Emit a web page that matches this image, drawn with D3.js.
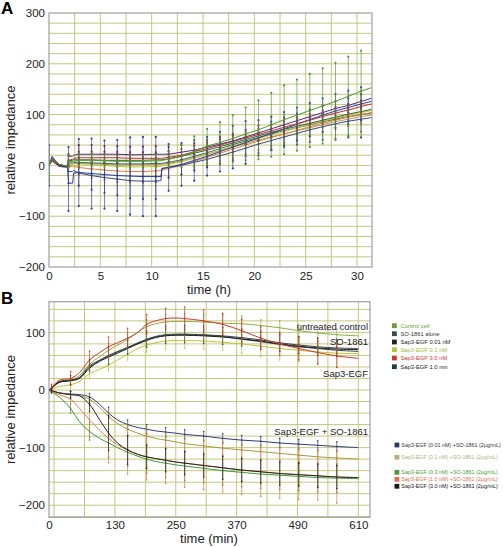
<!DOCTYPE html>
<html><head><meta charset="utf-8">
<script src="https://cdn.jsdelivr.net/npm/d3@7"></script>
<style>body{margin:0;background:#fff;} svg{display:block;font-family:"Liberation Sans",Arial,sans-serif;}</style>
</head><body><svg id="c" width="503" height="547"></svg>
<script>
// ---------- Panel A data (time in h) ----------
const timeA = [0,0.3,1.0,1.8,1.9,2.3,2.4,2.9,4.15,5.4,6.65,7.9,9.15,10.4,10.9,11.0,11.65,12.9,14.15,15.4,16.65,17.9,19.15,20.4,21.65,22.9,24.15,25.4,26.65,27.9,29.15,30.4,31.4];
const aGreen   = [0,12,2,-2,8, 8,8,10,10,9, 8,8,8,9,9, 10,12,18,27,38, 45,53,62,70,80, 90,99,108,117,126, 136,146,153];
const aPurple  = [0,10,0,-2,18, 18,20,22,22,22, 22,21,21,22,22, 22,22,26,30,36, 42,48,56,64,72, 80,88,96,104,112, 118,126,132];
const aRed     = [0,14,2,-2,10, 12,14,15,15,15, 15,14,14,14,14, 14,16,20,27,33, 40,47,54,61,68, 75,82,89,96,103, 109,116,121];
const aBlue    = [0,18,-2,-3,-35, -35,-15,-14,-16,-18, -20,-21,-22,-22,-22, -6,-4,2,10,18, 27,36,45,54,63, 72,81,90,99,107, 114,121,126];
const aNavy    = [0,10,-2,-3,-12, -12,-10,-15,-20,-24, -27,-30,-31,-31,-30, -6,-4,0,6,12, 19,26,34,42,49, 56,63,70,76,82, 87,91,94];
const aOrange  = [0,8,-2,-4,-2, -2,-2,-4,-7,-9, -11,-12,-12,-11,-10, -9,-6,0,8,16, 24,32,40,48,55, 62,69,76,83,89, 95,100,104];
const aYellow  = [0,9,0,-3,2, 2,3,3,2,0, -2,-3,-3,-2,-2, -1,2,7,14,22, 30,38,46,53,60, 67,74,81,87,93, 99,104,108];
const aTeal    = [0,12,1,-3,5, 5,6,6,5,4, 3,3,3,4,4, 4,6,11,18,25, 33,41,48,55,62, 68,74,80,86,91, 96,100,103];
const aDkGreen = [0,15,2,-2,9, 10,11,11,11,10, 10,10,10,11,11, 11,13,18,24,30, 37,44,51,58,65, 71,77,83,89,95, 101,106,110];
const aTan     = [0,10,0,-3,3, 3,4,4,3,2, 1,1,1,2,2, 2,4,9,15,22, 29,36,43,50,56, 62,68,74,80,86, 91,96,99];
// error (± half-length), 0 = no bar
const eAGreen  = [30,0,0,0,12, 0,0,12,12,12, 12,12,12,12,0, 0,15,22,30,34, 40,46,52,58,63, 68,70,72,74,76, 78,80,0];
const eABlue   = [40,0,0,0,55, 0,0,66,69,67, 70,76,78,78,0, 0,46,42,40,38, 39,42,42,35,33, 33,33,33,33,33, 33,33,0];
const eANavy   = [0,0,0,0,0, 0,0,25,28,30, 32,35,35,35,0, 0,20,18,16,16, 16,16,16,18,18, 20,22,24,26,30, 32,36,0];
const eAPurple = [0,0,0,0,18, 0,0,18,18,16, 16,16,16,16,0, 0,14,14,14,14, 14,14,14,14,14, 14,14,14,14,14, 14,14,0];
const eAOrange = [0,0,0,0,0, 0,0,15,18,20, 22,22,22,22,0, 0,18,18,18,18, 18,18,18,18,18, 18,18,18,18,18, 18,18,0];
const eARed    = [0,0,0,0,12, 0,0,12,12,12, 12,12,12,12,0, 0,12,12,12,12, 12,12,12,12,12, 12,12,12,12,12, 12,12,0];
const ticksAx = [0,5,10,15,20,25,30];
const ticksAy = [-200,-100,0,100,200,300];

// ---------- Panel B data (time in min) ----------
const timeB = [0,5,20,42.5,60,80,100,117.5,135,155,175,192.5,210,230,250,267.5,305,342.5,380,417.5,455,492.5,530,567.5,610];
const bControl = [0,3,15,18,25, 45,58,69,78,88, 100,110,115,118,119, 119,118,116,115,112, 108,103,99,96,94];
const bSO      = [0,3,14,17,22, 42,52,60,67,74, 82,88,93,96,97, 97,96,94,91,87, 82,78,75,73,72];
const b001     = [0,3,13,16,20, 38,50,57,64,72, 80,86,91,94,95, 95,94,92,89,85, 80,76,73,71,70];
const b01      = [0,2,6,9,15, 28,36,43,52,62, 72,78,82,85,86, 86,85,83,80,76, 72,69,66,64,63];
const b30      = [0,4,17,20,30, 52,65,75,82,90, 100,114,120,124,125, 124,120,114,103,90, 80,72,65,59,55];
const b10      = [0,3,14,17,21, 40,51,59,66,73, 81,87,92,95,96, 96,95,93,88,84, 79,75,72,69,67];
const bS001    = [0,-1,-5,-7,-8, -12,-25,-40,-52,-60, -65,-68,-71,-73,-75, -77,-80,-84,-87,-89, -92,-94,-96,-98,-100];
const bS01     = [0,-1,-5,-8,-10, -16,-30,-46,-58,-68, -75,-80,-84,-87,-90, -93,-97,-101,-104,-107, -110,-113,-116,-118,-120];
const bS03     = [0,-3,-12,-32,-55, -72,-84,-92,-100,-108, -115,-120,-124,-127,-130, -132,-136,-140,-143,-146, -148,-150,-152,-153,-154];
const bS10     = [0,-2,-8,-16,-32, -52,-70,-84,-95,-104, -111,-116,-119,-122,-125, -127,-131,-135,-139,-142, -145,-147,-149,-151,-152];
const bS30     = [0,-1,-5,-8,-10, -25,-52,-75,-92,-104, -112,-116,-119,-122,-125, -127,-131,-135,-139,-142, -145,-147,-149,-151,-152];
const eB30     = [0,6,0,12,0, 15,0,17,0,17, 0,17,0,18,0, 20,19,19,20,20, 20,20,20,20,0];
const eBControl= [0,4,0,8,0, 10,0,12,0,12, 0,12,0,14,0, 14,14,14,14,10, 12,10,10,10,0];
const eBSO     = [0,4,0,8,0, 10,0,15,0,12, 0,14,0,15,0, 15,15,15,15,15, 15,15,15,15,0];
const eB01     = [0,3,0,6,0, 8,0,10,0,10, 0,12,0,14,0, 14,14,14,16,18, 20,20,20,24,0];
const eBS001   = [0,2,0,5,0, 6,0,10,0,8, 0,8,0,8,0, 8,8,8,8,8, 8,8,8,8,0];
const eBS01    = [0,2,0,5,0, 8,0,12,0,12, 0,12,0,12,0, 12,12,12,12,12, 12,12,12,12,0];
const eBS03    = [0,3,0,8,0, 15,0,25,0,25, 0,25,0,25,0, 25,25,25,25,25, 25,25,25,25,0];
const eBS10    = [0,3,0,10,0, 30,0,42,0,42, 0,40,0,40,0, 42,42,42,42,43, 43,43,42,45,0];
const eBS30    = [0,3,0,6,0, 12,0,30,0,25, 0,20,0,20,0, 20,20,20,20,20, 20,20,20,20,0];
const ticksBx = [0,130,250,370,490,610];
const ticksBy = [-200,-100,0,100];
const legendTop = ["Control cell","SO-1861 alone","Sap3-EGF 0.01 nM","Sap3-EGF 0.1 nM","Sap3-EGF 3.0 nM","Sap3-EGF 1.0 nm"];
const legendBot = ["Sap3-EGF (0.01 nM) +SO-1861 (2µg/mL)","Sap3-EGF (0.1 nM) +SO-1861 (2µg/mL)","Sap3-EGF (0.3 nM) +SO-1861 (2µg/mL)","Sap3-EGF (1.0 nM) +SO-1861 (2µg/mL)","Sap3-EGF (3.0 nM) +SO-1861 (2µg/mL)"];
const annotations = ["untreated control","SO-1861","Sap3-EGF","Sap3-EGF + SO-1861"];

// ---------- drawing ----------
const svg = d3.select("#c");
const GRID = "#c6c67e", FRAME = "#a0a0a0";

function drawPanel(cfg){
  const {x, y, id} = cfg;
  const [x0,x1] = x.range(), [y1,y0] = y.range();
  const g = svg.append("g");
  g.append("clipPath").attr("id", id).append("rect")
    .attr("x", x0).attr("y", y0).attr("width", x1-x0).attr("height", y1-y0);
  g.selectAll(".gv").data(cfg.gridX).join("line")
    .attr("x1", d=>x(d)).attr("x2", d=>x(d)).attr("y1", y0).attr("y2", y1)
    .attr("stroke", GRID).attr("stroke-width", 1);
  g.selectAll(".gh").data(cfg.gridY).join("line")
    .attr("y1", d=>y(d)).attr("y2", d=>y(d)).attr("x1", x0).attr("x2", x1)
    .attr("stroke", GRID).attr("stroke-width", 1);
  g.append("rect").attr("x", x0).attr("y", y0).attr("width", x1-x0).attr("height", y1-y0)
    .attr("fill","none").attr("stroke", FRAME).attr("stroke-width", 1.2);
  const ax = g.append("g").attr("transform", `translate(0,${y1})`)
    .call(d3.axisBottom(x).tickValues(cfg.ticksX).tickSize(0).tickPadding(cfg.padX).tickFormat(d3.format("d")));
  const ay = g.append("g").attr("transform", `translate(${x0},0)`)
    .call(d3.axisLeft(y).tickValues(cfg.ticksY).tickSize(0).tickPadding(4));
  [ax, ay].forEach(a => {
    a.select(".domain").remove();
    a.selectAll("text").attr("font-size", 11.5).attr("fill", "#222")
      .attr("font-family", '"Liberation Sans",Arial,sans-serif');
  });
  const plot = g.append("g").attr("clip-path", `url(#${id})`);
  cfg.series.forEach(s => {
    plot.append("path").datum(s.v)
      .attr("fill","none").attr("stroke", s.c).attr("stroke-width", cfg.lw)
      .attr("d", d3.line().x((d,i)=>x(cfg.t[i])).y(d=>y(d)).curve(cfg.curve));
  });
  cfg.series.forEach(s => {
    if (!s.e) return;
    const pts = s.v.map((v,i)=>({t:cfg.t[i], v, e:s.e[i]})).filter(p=>p.e>0);
    const eg = plot.append("g").attr("stroke", s.c).attr("fill", s.c);
    eg.selectAll("line").data(pts).join("line")
      .attr("x1", p=>x(p.t)).attr("x2", p=>x(p.t))
      .attr("y1", p=>y(p.v-p.e)).attr("y2", p=>y(p.v+p.e))
      .attr("stroke-width", 0.8).attr("opacity", 0.85);
    const dots = [];
    pts.forEach(p => { dots.push([p.t,p.v-p.e],[p.t,p.v+p.e],[p.t,p.v]); });
    eg.selectAll("circle").data(dots).join("circle")
      .attr("cx", d=>x(d[0])).attr("cy", d=>y(d[1])).attr("r", cfg.dotR).attr("stroke","none");
  });
  return g;
}

// Panel A
const xA = d3.scaleLinear().domain([0, 31.46]).range([49, 372]);
const yA = d3.scaleLinear().domain([-200, 300]).range([267, 13]);
drawPanel({
  id:"clipA", x:xA, y:yA, t:timeA, padX:5, lw:1, dotR:1.1, curve:d3.curveLinear,
  ticksX:ticksAx, ticksY:ticksAy,
  gridX:d3.range(2.5, 31.4, 2.5), gridY:d3.range(-180, 300, 20),
  series:[
    {v:aTan, c:"#b09a60"},
    {v:aTeal, c:"#2a6a62"},
    {v:aYellow, c:"#c8c032"},
    {v:aDkGreen, c:"#2f6a2a"},
    {v:aOrange, c:"#e08038", e:eAOrange},
    {v:aNavy, c:"#3a4a7c", e:eANavy},
    {v:aBlue, c:"#2a3ca8", e:eABlue},
    {v:aRed, c:"#c0302a", e:eARed},
    {v:aPurple, c:"#5a2a86", e:eAPurple},
    {v:aGreen, c:"#4f9a2c", e:eAGreen}
  ]
});

// Panel B
const xB = d3.scaleLinear().domain([0, 633]).range([49, 370]);
const yB = d3.scaleLinear().domain([-221, 153.3]).range([517.3, 301.7]);
drawPanel({
  id:"clipB", x:xB, y:yB, t:timeB, padX:4, lw:1, dotR:0.8, curve:d3.curveCatmullRom.alpha(0.5),
  ticksX:ticksBx, ticksY:ticksBy,
  gridX:d3.range(10, 633, 60), gridY:d3.range(-220, 154, 20),
  series:[
    {v:b01, c:"#bcc43a", e:eB01},
    {v:bControl, c:"#88b048", e:eBControl},
    {v:bSO, c:"#3c4a4a", e:eBSO},
    {v:b10, c:"#2a4a48"},
    {v:b001, c:"#1c1c1c"},
    {v:b30, c:"#d03828", e:eB30},
    {v:bS001, c:"#2c3c80", e:eBS001},
    {v:bS01, c:"#a8983e", e:eBS01},
    {v:bS03, c:"#3a9a3a", e:eBS03},
    {v:bS10, c:"#e07a4a", e:eBS10},
    {v:bS30, c:"#222222", e:eBS30}
  ]
});

const T = (x,y,txt,o={}) => svg.append("text").attr("x",x).attr("y",y).text(txt)
  .attr("font-size", o.fs||13).attr("fill", o.fill||"#222").attr("text-anchor", o.anchor||"middle")
  .attr("font-weight", o.fw||"normal").attr("transform", o.rot?`rotate(-90,${x},${y})`:null);
T(1, 14, "A", {fs:17, fw:"bold", anchor:"start", fill:"#000"});
T(1, 304, "B", {fs:17, fw:"bold", anchor:"start", fill:"#000"});
T(209, 294, "time (h)", {fs:13});
T(209, 543, "time (min)", {fs:13});
T(15, 140, "relative impedance", {fs:13, rot:true});
T(15, 409.5, "relative impedance", {fs:13, rot:true});
const annY = [330, 344.5, 377, 434.5];
annotations.forEach((a,i)=>T(368, annY[i], a, {fs:9.5, anchor:"end"}));

const sqTop = ["#6aa030","#3a4a4a","#222222","#b8c040","#c83a30","#1f4040"];
const txTop = ["#6aa030","#333333","#222222","#aab83a","#c83a30","#222222"];
const rowTop = [325.7,333.7,342,349.7,358,366.7];
legendTop.forEach((l,i)=>{
  svg.append("rect").attr("x",392).attr("y",rowTop[i]-2.4).attr("width",4.8).attr("height",4.8).attr("fill",sqTop[i]);
  T(400.5, rowTop[i]+2, l, {fs:5.8, anchor:"start", fill:txTop[i]});
});
const sqBot = ["#283a6a","#b8ae7c","#4a9a3c","#e07050","#1a1a10"];
const txBot = ["#333333","#b8ae7c","#4a9a3c","#e07050","#111111"];
const rowBot = [445,457.3,472.3,479.3,486.3];
legendBot.forEach((l,i)=>{
  svg.append("rect").attr("x",394.5).attr("y",rowBot[i]-2.4).attr("width",4.8).attr("height",4.8).attr("fill",sqBot[i]);
  T(401.3, rowBot[i]+2, l, {fs:5.4, anchor:"start", fill:txBot[i]});
});
</script></body></html>
